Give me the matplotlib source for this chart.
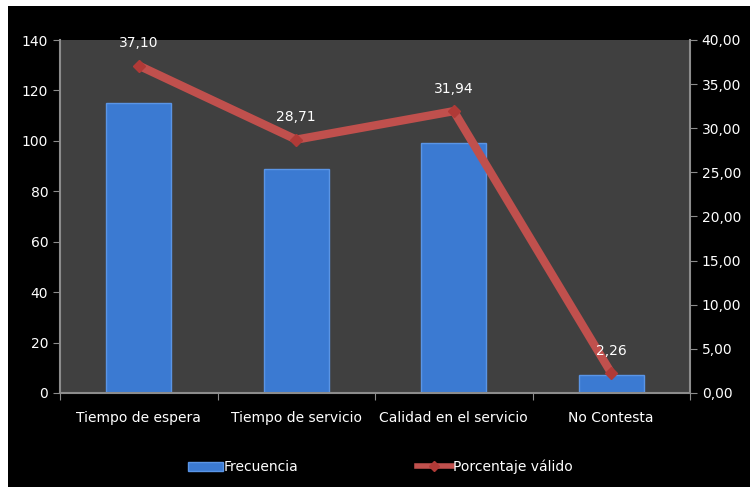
import matplotlib
import matplotlib.pyplot as plt
import numpy as np
from matplotlib.patches import Rectangle
from matplotlib.lines import Line2D

plt.rcParams["font.family"] = ["Liberation Sans Narrow", "DejaVu Sans"]

categorias = ["Tiempo de espera", "Tiempo de servicio", "Calidad en el servicio", "No Contesta"]
frecuencia = [115, 89, 99, 7]
porcentaje = [37.10, 28.71, 31.94, 2.26]
etiquetas_pct = ["37,10", "28,71", "31,94", "2,26"]

bar_color = "#3B7AD2"
line_color = "#C0504D"
axis_color = "#8C8C8C"
fs = 10

fig = plt.figure(figsize=(7.5, 4.87), dpi=100, facecolor="white")
fig.patches.append(Rectangle((8 / 750, 0), 1, 1 - 6 / 487, transform=fig.transFigure,
                             facecolor="black", edgecolor="none", zorder=-10))

ax = fig.add_axes([60 / 750, 94 / 487, 630 / 750, 353 / 487])
ax.set_facecolor("#404040")
x = np.arange(len(categorias))
ax.bar(x, frecuencia, width=0.41, color=bar_color, edgecolor="#5A95E6", linewidth=1.0, zorder=2)
ax.set_xlim(-0.5, len(categorias) - 0.5)
ax.set_ylim(0, 140)
ax.set_yticks(range(0, 141, 20))
ax.set_xticks(np.arange(-0.5, len(categorias), 1.0))
ax.set_xticklabels([])
ax.set_xticks(x, minor=True)
ax.set_xticklabels(categorias, minor=True)
ax.tick_params(axis="x", which="minor", length=0, pad=13, colors="white", labelsize=fs)
ax.tick_params(axis="x", which="major", length=5, color=axis_color)
ax.tick_params(axis="y", colors="white", labelsize=fs, length=5)
ax.tick_params(axis="y", color=axis_color)
for side in ["top", "right"]:
    ax.spines[side].set_visible(False)
ax.spines["left"].set_color(axis_color)
ax.spines["bottom"].set_color(axis_color)
ax.spines["left"].set_linewidth(1.5)
ax.spines["bottom"].set_linewidth(1.5)

ax2 = ax.twinx()
ax2.plot(x, porcentaje, color=line_color, linewidth=6, marker="D", markersize=6,
         markerfacecolor="#B03A37", markeredgecolor="#B03A37", zorder=3, solid_capstyle="butt")
ax2.set_ylim(0, 40)
ax2.set_yticks(range(0, 41, 5))
ax2.set_yticklabels([f"{v:.2f}".replace(".", ",") for v in range(0, 41, 5)])
ax2.tick_params(axis="y", colors="white", labelsize=fs, length=5)
ax2.tick_params(axis="y", color=axis_color)
for side in ["top", "left", "bottom"]:
    ax2.spines[side].set_visible(False)
ax2.spines["right"].set_color(axis_color)
ax2.spines["right"].set_linewidth(1.5)

for xi, yi, lab in zip(x, porcentaje, etiquetas_pct):
    ax2.annotate(lab, (xi, yi), xytext=(0, 16), textcoords="offset points",
                 ha="center", va="center", color="white", fontsize=fs)

handles = [
    Rectangle((0, 0), 1, 1, facecolor=bar_color, edgecolor="#5A95E6"),
    Line2D([0], [0], color=line_color, linewidth=4, marker="D", markersize=5,
           markerfacecolor="#B03A37", markeredgecolor="#B03A37"),
]
leg = fig.legend(handles, ["Frecuencia", "Porcentaje válido"], loc="center",
                 bbox_to_anchor=(0.507, 1 - 467 / 487), ncol=2, frameon=False,
                 fontsize=fs, columnspacing=8.5, handlelength=2.5, handletextpad=0.1)
for t in leg.get_texts():
    t.set_color("white")

fig.savefig("out.png", dpi=100, facecolor=fig.get_facecolor())
